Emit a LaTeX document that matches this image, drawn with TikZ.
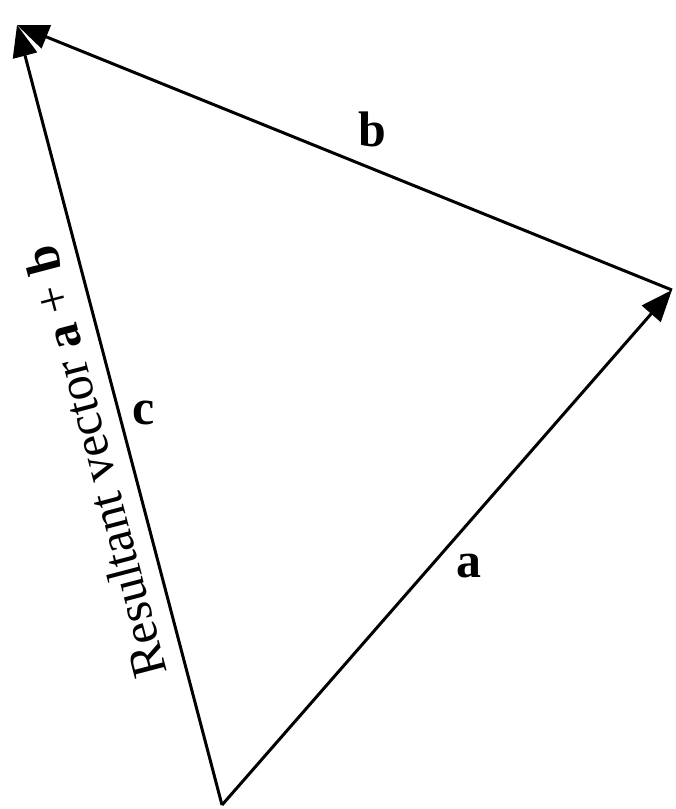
\documentclass[tikz,border=0pt]{standalone}
\usepackage{fontspec}
\setmainfont{Liberation Serif}
\usetikzlibrary{arrows.meta}
\tikzset{
  vec/.style={line width=0.85pt, -{Triangle[length=9pt,width=7pt]}},
  lbl/.style={inner sep=0pt, font=\fontsize{14.2}{17}\selectfont\bfseries},
  restxt/.style={inner sep=0pt, font=\fontsize{14.2}{17}\selectfont, rotate=104.7}
}
\begin{document}
\begin{tikzpicture}[x=0.1mm,y=-0.1mm]
\useasboundingbox (0,0) rectangle (676,809);
\coordinate (O) at (222,805);
\coordinate (A) at (672,290);
\coordinate (B) at (17,25);
\draw[vec] (O) -- (A);
\draw[vec] (A) -- (B);
\draw[vec] (O) -- (B);
\node[lbl] (la) at (469,566) {a};
\node[lbl] (lb) at (372,129) {b};
\node[lbl] (lc) at (144,413) {c};
\node[restxt] (res) at (95,462) {Resultant vector \textbf{a} + \textbf{b}};
\end{tikzpicture}
\end{document}
